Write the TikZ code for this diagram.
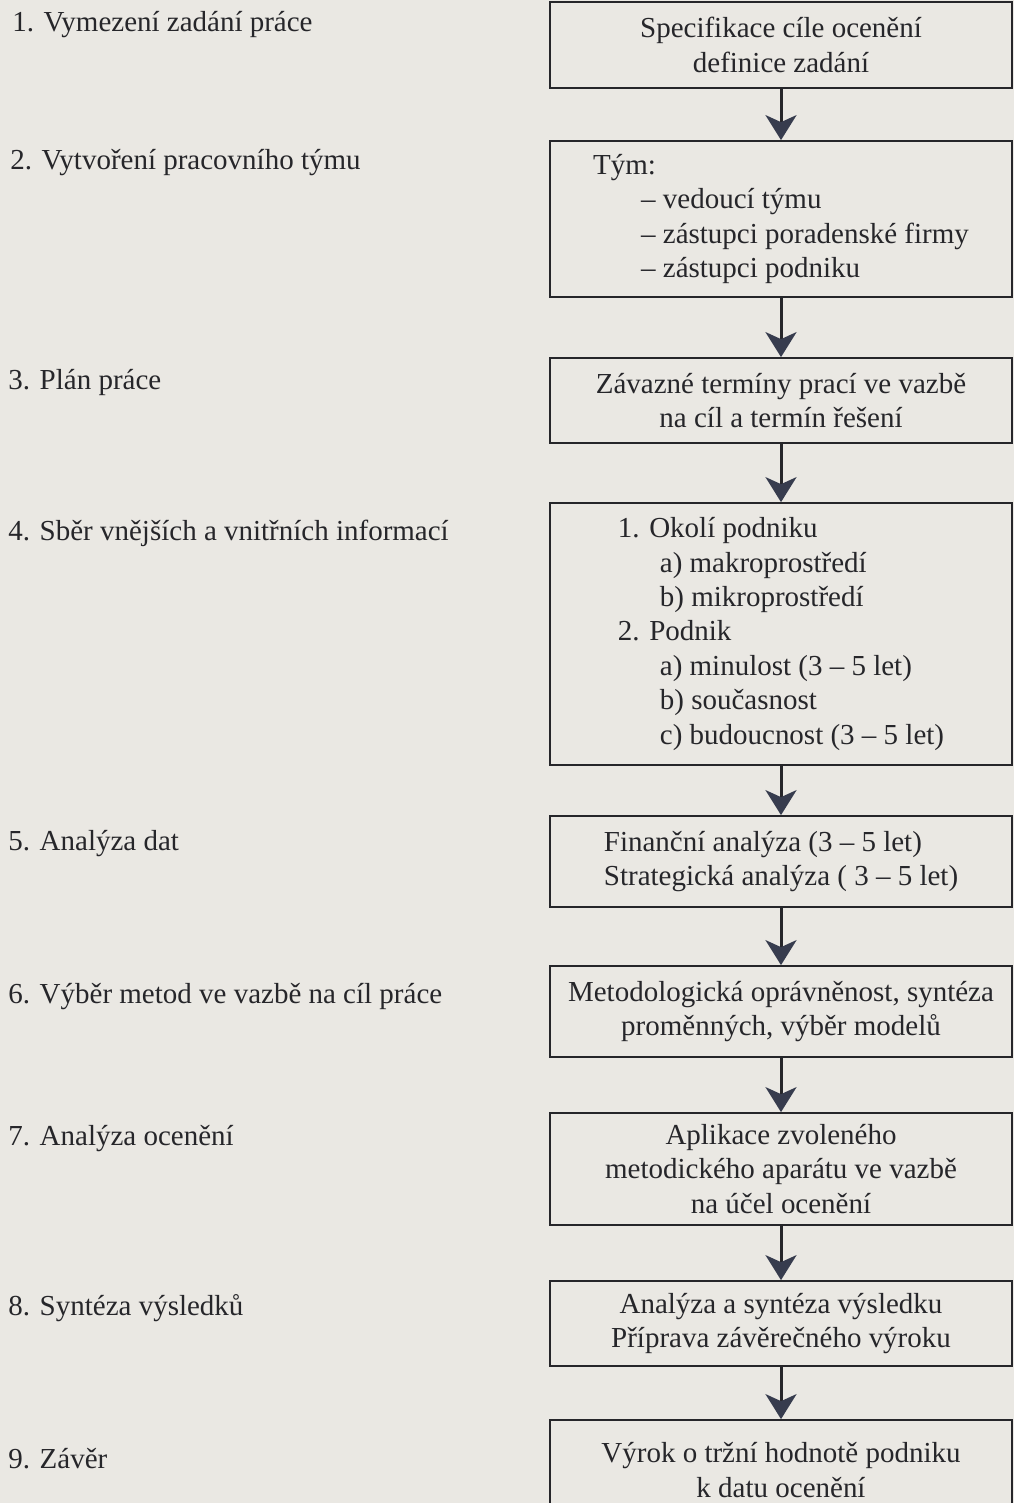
\documentclass[tikz,border=0pt]{standalone}
\usepackage{fontspec}
\setmainfont{Liberation Serif}
\usepackage{xcolor}
\usepackage{tikz}
\usetikzlibrary{arrows.meta}
\definecolor{paper}{RGB}{234,232,227}
\definecolor{ink}{RGB}{38,38,42}
\definecolor{tipcol}{RGB}{55,60,78}

\begin{document}
\begin{tikzpicture}[x=0.02cm, y=-0.02cm,
		every node/.style={font=\fontsize{16.5}{19.6}\selectfont, text=ink},
		stage/.style={anchor=base west, inner sep=0pt},
		box/.style={draw=ink, line width=1pt, minimum width=9.24cm, inner sep=0pt, align=center},
		listbox/.style={box, align=left},
		arr/.style={line width=1.7pt, draw=ink, -{Stealth[length=0.5cm, width=0.62cm, inset=0.14cm, color=tipcol]}}]
				\useasboundingbox (0,0) rectangle (1014,1503);
				\clip (0,0) rectangle (1014,1503);
				\fill[paper] (0,0) rectangle (1014,1503);
				% steps on the left
				\node[stage] (step1) at (12,32)   {1. Vymezení zadání práce};
				\node[stage] (step2) at (10,170)  {2. Vytvoření pracovního týmu};
				\node[stage] (step3) at (8,390)   {3. Plán práce};
				\node[stage] (step4) at (8,540)   {4. Sběr vnějších a vnitřních informací};
				\node[stage] (step5) at (8,850)   {5. Analýza dat};
				\node[stage] (step6) at (8,1003)  {6. Výběr metod ve vazbě na cíl práce};
				\node[stage] (step7) at (8,1145)  {7. Analýza ocenění};
				\node[stage] (step8) at (8,1315)  {8. Syntéza výsledků};
				\node[stage] (step9) at (8,1468)  {9. Závěr};
				% boxes on the right
				\node[box, minimum height=1.72cm] (box1) at (781,45) {Specifikace cíle ocenění\\definice zadání};
				\node[listbox, minimum height=3.12cm] (box2) at (781,219) {Tým:\\\hspace*{0.96cm}– vedoucí týmu\\\hspace*{0.96cm}– zástupci poradenské firmy\\\hspace*{0.96cm}– zástupci podniku};
				\node[box, minimum height=1.7cm] (box3) at (781,400.5) {Závazné termíny prací ve vazbě\\na cíl a termín řešení};
				\node[listbox, minimum height=5.24cm] (box4) at (781,634) {1. Okolí podniku\\\hspace*{0.84cm}a) makroprostředí\\\hspace*{0.84cm}b) mikroprostředí\\2. Podnik\\\hspace*{0.84cm}a) minulost (3 – 5 let)\\\hspace*{0.84cm}b) současnost\\\hspace*{0.84cm}c) budoucnost (3 – 5 let)};
				\node[listbox, minimum height=1.82cm] (box5) at (781,861.5) {Finanční analýza (3 – 5 let)\\Strategická analýza ( 3 – 5 let)};
				\node[box, minimum height=1.82cm] (box6) at (781,1011.5) {Metodologická oprávněnost, syntéza\\proměnných, výběr modelů};
				\node[box, minimum height=2.24cm] (box7) at (781,1169) {Aplikace zvoleného\\metodického aparátu ve vazbě\\na účel ocenění};
				\node[box, minimum height=1.7cm] (box8) at (781,1323.5) {Analýza a syntéza výsledku\\Příprava závěrečného výroku};
				\node[box, minimum height=2cm] (box9) at (781,1470) {Výrok o tržní hodnotě podniku\\k datu ocenění};
				% arrows
				\draw[arr] (box1)--(box2);
				\draw[arr] (box2)--(box3);
				\draw[arr] (box3)--(box4);
				\draw[arr] (box4)--(box5);
				\draw[arr] (box5)--(box6);
				\draw[arr] (box6)--(box7);
				\draw[arr] (box7)--(box8);
				\draw[arr] (box8)--(box9);
			\end{tikzpicture}
\end{document}
